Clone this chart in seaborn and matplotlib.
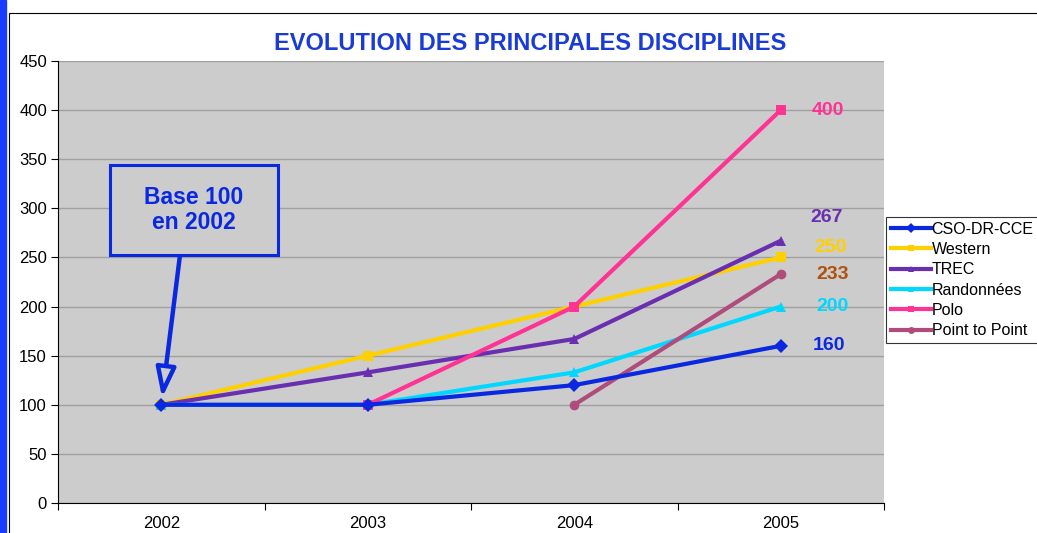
import matplotlib
matplotlib.use('Agg')
import matplotlib.pyplot as plt
import matplotlib.patches as mpatches
import seaborn as sns
import pandas as pd
import numpy as np

YEARS = [2002, 2003, 2004, 2005]
SERIES = ['CSO-DR-CCE', 'Western', 'TREC', 'Randonnées', 'Polo', 'Point to Point']
CSO = [100, 100, 120, 160]
WESTERN = [100, 150, 200, 250]
TREC = [100, 133, 167, 267]
RANDO = [100, 100, 133, 200]
POLO = [np.nan, 100, 200, 400]
P2P = [np.nan, np.nan, 100, 233]
END_LABELS = ['160', '250', '267', '200', '400', '233']

COLORS = ['#0a28e0', '#ffd000', '#6a2fb0', '#00d8ff', '#ff3394', '#b04c7c']
LABEL_COLORS = ['#0a28e0', '#ffd000', '#6a2fb0', '#00d8ff', '#ff3394', '#b0500f']
MARKERS = ['D', 's', '^', '^', 's', 'o']
# (dx, dy) of the end labels, in points
LABEL_OFFSETS = [(35, 0), (36, 7), (33, 17), (37, 0), (34, 0), (37, 0)]

plt.rcParams['font.family'] = ['Liberation Sans', 'DejaVu Sans']

values = [CSO, WESTERN, TREC, RANDO, POLO, P2P]
df = pd.DataFrame({
    'year': YEARS * len(SERIES),
    'discipline': [s for s in SERIES for _ in YEARS],
    'value': [v for vals in values for v in vals],
}).dropna()

fig = plt.figure(figsize=(10.37, 5.33), dpi=100)
fig.patch.set_facecolor('white')

# left blue bar + outer chart frame
fig.patches.append(mpatches.Rectangle((0, 0), 6 / 1037, 1, transform=fig.transFigure,
                                      color='#1a3cff', zorder=0))
fig.patches.append(mpatches.Rectangle((9 / 1037, -0.05), 1.1, 1 - 13 / 533 + 0.05,
                                      transform=fig.transFigure, fill=False,
                                      edgecolor='black', linewidth=0.8, zorder=0))

ax = fig.add_axes([58 / 1037, 1 - 503 / 533, 826 / 1037, 442 / 533])
ax.set_facecolor('#cccccc')

sns.lineplot(data=df, x='year', y='value', hue='discipline', style='discipline',
             hue_order=SERIES, style_order=SERIES, palette=COLORS,
             markers=MARKERS, dashes=False, linewidth=3, markersize=7,
             markeredgewidth=0, ax=ax, zorder=3)
ax.lines[0].set_zorder(4)

ax.set_xlim(2001.5, 2005.5)
ax.set_ylim(0, 450)
ax.set_yticks(range(0, 451, 50))
ax.yaxis.grid(True, color='#a0a0a0', linewidth=1)
ax.set_axisbelow(True)
ax.set_xticks(YEARS)
ax.set_xticklabels([str(y) for y in YEARS], fontsize=12)
ax.tick_params(axis='x', length=0, pad=9)
ax.set_xticks([2001.5, 2002.5, 2003.5, 2004.5, 2005.5], minor=True)
ax.tick_params(axis='x', which='minor', length=5, width=0.8)
ax.tick_params(axis='y', labelsize=12, length=5, width=0.8, pad=3)
ax.set_xlabel('')
ax.set_ylabel('')
for side in ['top', 'right']:
    ax.spines[side].set_visible(False)
for side in ['left', 'bottom']:
    ax.spines[side].set_linewidth(0.8)

# end labels
for vals, lab, col, off in zip(values, END_LABELS, LABEL_COLORS, LABEL_OFFSETS):
    ax.annotate(lab, xy=(YEARS[-1], vals[-1]), xytext=off, textcoords='offset points',
                color=col, fontsize=14, fontweight='bold', ha='center', va='center')

fig.text(530 / 1037, 1 - 43 / 533, 'EVOLUTION DES PRINCIPALES DISCIPLINES', fontsize=17,
         fontweight='bold', color='#1a3bd6', ha='center', va='center')

# base 100 annotation box
box = mpatches.Rectangle((110 / 1037, 1 - 255 / 533), 168 / 1037, 90 / 533,
                         transform=fig.transFigure, facecolor='#cccccc',
                         edgecolor='#0a28e0', linewidth=2.2, zorder=5)
fig.patches.append(box)
fig.text(194 / 1037, 1 - 210 / 533, 'Base 100\nen 2002', fontsize=16.5, fontweight='bold',
         color='#0a28e0', ha='center', va='center', linespacing=1.15, zorder=6)
ax.annotate('', xy=(YEARS[0], 100), xytext=(180 / 1037, 1 - 255 / 533),
            textcoords='figure fraction',
            arrowprops=dict(arrowstyle='-|>,head_length=1.8,head_width=0.6', fc='#cccccc',
                            ec='#0a28e0', linewidth=3.2, shrinkA=0, shrinkB=5))

leg = ax.legend(loc='upper left', bbox_to_anchor=(886 / 1037, 1 - 217 / 533),
                bbox_transform=fig.transFigure, frameon=True, fancybox=False,
                fontsize=11.5, handlelength=2.5, handletextpad=0.05, borderpad=0.3,
                labelspacing=0.33, borderaxespad=0)
leg.get_frame().set_edgecolor('black')
leg.get_frame().set_linewidth(0.8)
for h in leg.legend_handles:
    h.set_markersize(5)

fig.savefig('out.png', dpi=100, facecolor='white')
